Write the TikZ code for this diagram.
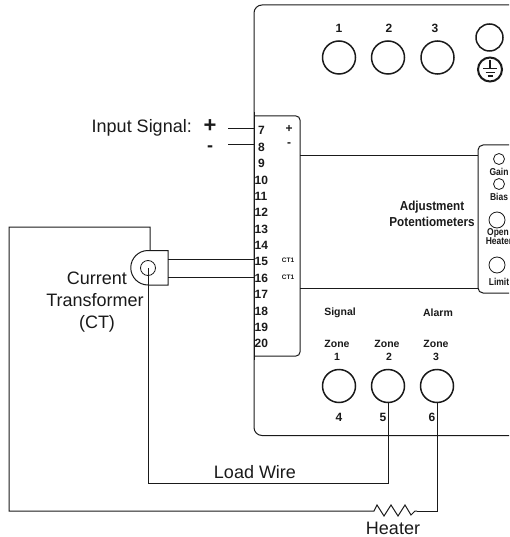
\documentclass[tikz,border=0pt]{standalone}
\usepackage{fontspec}
\setmainfont{Liberation Sans}
\definecolor{ink}{HTML}{1A1A1A}
\tikzset{
  x=1pt,y=-1pt,
  wire/.style={draw=ink,line width=1pt},
  box/.style={draw=ink,line width=1pt},
  ring/.style={circle,draw=ink,line width=1.5pt,inner sep=0pt,minimum size=#1},
  pot/.style={circle,draw=ink,line width=0.8pt,inner sep=0pt,minimum size=#1},
  lab/.style={inner sep=0pt,font=\fontsize{18}{20}\selectfont,text=ink},
  num/.style={inner sep=0pt,font=\fontsize{12}{13}\selectfont\bfseries,text=ink},
  term/.style={inner sep=0pt,anchor=west,font=\fontsize{12}{13}\selectfont\bfseries,text=ink},
  small/.style={inner sep=0pt,font=\fontsize{10.5}{11}\selectfont\bfseries,text=ink},
  tiny/.style={inner sep=0pt,font=\fontsize{6.5}{7}\selectfont\bfseries,text=ink},
  narrow/.style={inner sep=0pt,xscale=.85,font=\fontsize{10}{9}\selectfont\bfseries,text=ink},
  adjl/.style={inner sep=0pt,xscale=.9,font=\fontsize{13}{14}\selectfont\bfseries,text=ink},
}
\begin{document}
\begin{tikzpicture}
\useasboundingbox (0,0) rectangle (509,537);
% housing
\draw[box,rounded corners=8pt] (509,5) -- (254,5) -- (254,435.5) -- (509,435.5);
% terminal block
\path[fill=white,draw=ink,line width=1pt,rounded corners=4pt] (254,116) -- (300,116) -- (300,356) -- (254,356);
\draw[box] (254,112) -- (254,360);
% potentiometer block
\path[fill=white,draw=ink,line width=1pt,rounded corners=5pt] (509,145) -- (478,145) -- (478,293) -- (509,293);
\coordinate (bt) at (300,156); \coordinate (pt) at (478,156);
\coordinate (bb) at (300,288); \coordinate (pb) at (478,288);
\draw[wire] (bt) -- (pt);
\draw[wire] (bb) -- (pb);
% top circles
\node[ring=33pt] (c1) at (339,57.5) {};
\node[ring=33pt] (c2) at (388,57.5) {};
\node[ring=33pt] (c3) at (437.5,57.5) {};
\node[ring=27pt] (c4) at (489.5,37.5) {};
\node[ring=24pt,line width=2pt] (gnd) at (490,69.5) {};
\draw[ink,line width=1.2pt] (490,60) -- (490,68.5) (483,68.5) -- (497,68.5) (485.5,72.5) -- (494.5,72.5) (487.5,76) -- (492.5,76);
\node[num] (l1) at (339,28) {1};
\node[num] (l2) at (389,28) {2};
\node[num] (l3) at (435,28) {3};
% pots
\node[pot=11pt] (p1) at (499,159) {};
\node[pot=11pt] (p2) at (499,184) {};
\node[pot=16pt] (p3) at (497,220) {};
\node[pot=16pt] (p4) at (497,265) {};
\node[narrow] (t1) at (499,172) {Gain};
\node[narrow] (t2) at (499,197) {Bias};
\node[narrow] (t3) at (498,233) {Open};
\node[narrow] (t4) at (499,241) {Heater};
\node[narrow] (t5) at (499,282) {Limit};
\node[adjl] (adj) at (432,207) {Adjustment};
\node[adjl] (adj2) at (432,221.5) {Potentiometers};
% terminals
\foreach \n/\xx/\yy in {7/258/130,8/258/147,9/258/163,10/254.5/180,11/254.5/196,12/254.5/212,13/254.5/229,14/254.5/245,15/254.5/261,16/254.5/278,17/254.5/294,18/254.5/311,19/254.5/327,20/254.5/343}
  \node[term] (n\n) at (\xx,\yy) {\n};
\node[num] (tp) at (289,129) {+};
\node[num] (tm) at (289,145) {-};
\node[tiny] (ct1) at (288,260) {CT1};
\node[tiny] (ct2) at (288,277) {CT1};
% input
\node[lab,anchor=east] (inp) at (192,128) {Input Signal:};
\node[inner sep=0pt,text=ink,font=\fontsize{22}{22}\selectfont\bfseries] (pl) at (210,126) {+};
\node[inner sep=0pt,text=ink,font=\fontsize{18}{18}\selectfont\bfseries] (mi) at (210,149) {-};
\coordinate (i1) at (228,129); \coordinate (i2) at (254,129);
\coordinate (i3) at (228,145); \coordinate (i4) at (254,145);
\draw[wire] (i1) -- (i2);
\draw[wire] (i3) -- (i4);
% zones
\node[small] (sg) at (340,313) {Signal};
\node[small] (al) at (438,313) {Alarm};
\node[small] (z1) at (337,344) {Zone};
\node[small] (z2) at (387,344) {Zone};
\node[small] (z3) at (436,344) {Zone};
\node[small] (d1) at (337,357) {1};
\node[small] (d2) at (389,357) {2};
\node[small] (d3) at (436,357) {3};
\node[ring=33pt] (b1) at (339,386) {};
\node[ring=33pt] (b2) at (388,386) {};
\node[ring=33pt] (b3) at (437,386) {};
\node[num] (n4) at (339,417) {4};
\node[num] (n5) at (383,417) {5};
\node[num] (n6) at (432,417) {6};
% CT
\draw[box,fill=white] (168,250.5) -- (148,250.5) arc[start angle=270,end angle=90,radius=17.25] -- (168,285) -- cycle;
\node[pot=15pt] (cti) at (148,268) {};
\coordinate (w1) at (168,259); \coordinate (w2) at (254,259);
\coordinate (w3) at (168,277); \coordinate (w4) at (254,277);
\draw[wire] (w1) -- (w2);
\draw[wire] (w3) -- (w4);
% load wire
\draw[wire] (b2.south) -- (388,483.5) -- (148,483.5) -- (cti.center);
% heater
\coordinate (hr) at (417,511);
\draw[wire] (b3.south) -- (437,511) -- (hr);
\draw[wire] (hr) -- (415,511) -- (411,515) -- (405,505) -- (398,516) -- (391,505) -- (384,516) -- (377,505) -- (374,511) -- (9,511) -- (9,227) -- (150,227) -- (150,250.5);
\node[lab] (lw) at (255,472.5) {Load Wire};
\node[lab] (ht) at (393,528) {Heater};
\node[lab] (cc) at (97,278) {Current};
\node[lab] (ct) at (95,300) {Transformer};
\node[lab] (cp) at (97,324) {(CT)};
\end{tikzpicture}
\end{document}
